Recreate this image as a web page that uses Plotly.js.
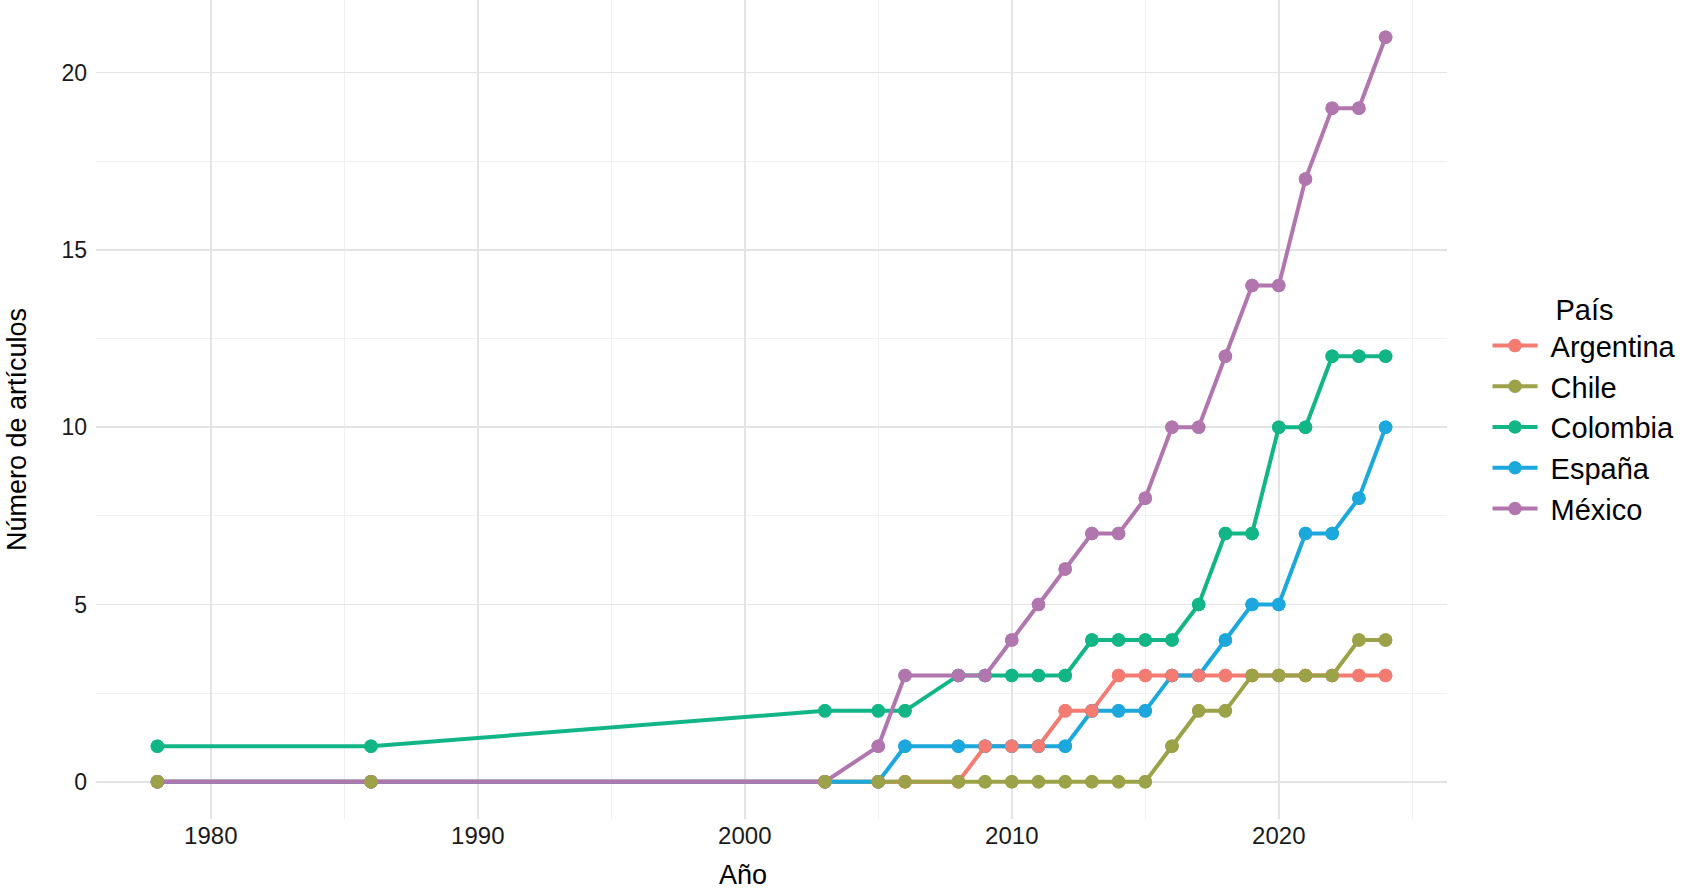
<!DOCTYPE html>
<html>
<head>
<meta charset="utf-8">
<script src="https://cdn.plot.ly/plotly-3.0.1.min.js"></script>
<style>html,body{margin:0;padding:0;background:#fff;}#chart{width:1688px;height:893px;}</style>
</head>
<body>
<div id="chart"></div>
<script>
const years = [1978,1986,2003,2005,2006,2008,2009,2010,2011,2012,2013,2014,2015,2016,2017,2018,2019,2020,2021,2022,2023,2024];
const argentina = [0,0,0,0,0,0,1,1,1,2,2,3,3,3,3,3,3,3,3,3,3,3];
const chile     = [0,0,0,0,0,0,0,0,0,0,0,0,0,1,2,2,3,3,3,3,4,4];
const colombia  = [1,1,2,2,2,3,3,3,3,3,4,4,4,4,5,7,7,10,10,12,12,12];
const espana    = [0,0,0,0,1,1,1,1,1,1,2,2,2,3,3,4,5,5,7,7,8,10];
const mexico    = [0,0,0,1,3,3,3,4,5,6,7,7,8,10,10,12,14,14,17,19,19,21];
const countries = ["Argentina","Chile","Colombia","España","México"];
const xTicks = [1980,1990,2000,2010,2020];
const yTicks = [0,5,10,15,20];

const seriesValues = {"Argentina":argentina,"Chile":chile,"Colombia":colombia,"España":espana,"México":mexico};
const colors = {"Argentina":"#F37B72","Chile":"#9CA247","Colombia":"#12B686","España":"#1DA8DD","México":"#B276AF"};
const pointOrder = ["Colombia","España","México","Argentina","Chile"];

const traces = [];
countries.forEach((c,i)=>{
  traces.push({
    x: years, y: seriesValues[c], name: '\u00a0' + c, type:'scatter', mode:'lines+markers',
    line:{color:colors[c], width:4}, marker:{color:colors[c], size:13.5},
    legendrank: i+1, showlegend:true, hoverinfo:'skip'
  });
});
pointOrder.forEach(c=>{
  traces.push({
    x: years, y: seriesValues[c], name: c, type:'scatter', mode:'markers',
    marker:{color:colors[c], size:13.5}, showlegend:false, hoverinfo:'skip'
  });
});

const font = "Liberation Sans, Arial, sans-serif";
const layout = {
  width:1688, height:893,
  margin:{l:96, r:241, t:0, b:74, pad:0},
  paper_bgcolor:'#ffffff', plot_bgcolor:'#ffffff',
  font:{family:font, color:'#000'},
  showlegend:true,
  xaxis:{
    range:[1975.7,2026.3], tickvals:xTicks, ticktext:xTicks.map(String),
    showgrid:true, gridcolor:'#E4E4E4', gridwidth:1.6, zeroline:false, showline:false,
    ticks:'', tickfont:{size:24, family:font, color:'#1a1a1a'},
    minor:{dtick:5, tick0:1975, showgrid:true, gridcolor:'#F0F0F0', gridwidth:1},
    title:{text:''}
  },
  yaxis:{
    range:[-1.05,22.05], tickvals:yTicks, ticktext:yTicks.map(String),
    showgrid:true, gridcolor:'#E4E4E4', gridwidth:1.6, zeroline:false, showline:false,
    ticks:'', tickfont:{size:23, family:font, color:'#1a1a1a'}, ticklabelstandoff:8,
    minor:{dtick:2.5, tick0:0, showgrid:true, gridcolor:'#F0F0F0', gridwidth:1},
    title:{text:''}
  },
  annotations:[
    {text:'Año', xref:'paper', yref:'paper', x:0.479, y:-0.0684, xanchor:'center', yanchor:'middle',
     showarrow:false, font:{size:27, family:font, color:'#000'}},
    {text:'Número de artículos', xref:'paper', yref:'paper', x:-0.0585, y:0.476, xanchor:'center', yanchor:'middle',
     textangle:-90, showarrow:false, font:{size:27, family:font, color:'#000'}}
  ],
  legend:{
    x:1.03, xanchor:'left', y:0.655, yanchor:'top',
    font:{size:29, family:font}, bgcolor:'rgba(0,0,0,0)',
    title:{text:'País', side:'top center', font:{size:29, family:font}},
    itemwidth:45
  }
};
Plotly.newPlot('chart', traces, layout, {displayModeBar:false, staticPlot:true});
</script>
</body>
</html>
